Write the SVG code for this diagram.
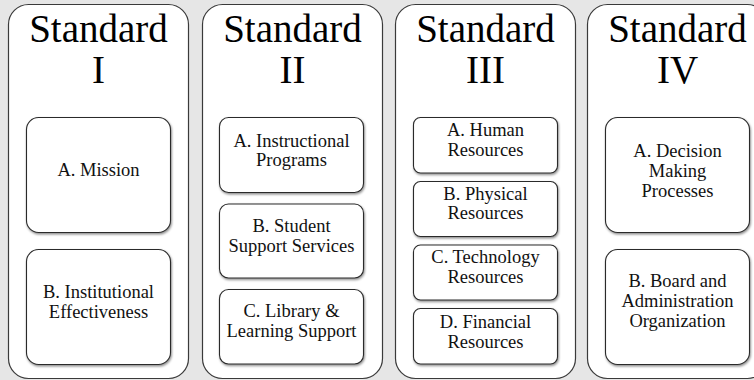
<svg xmlns="http://www.w3.org/2000/svg" width="754" height="380" viewBox="0 0 754 380">
<style>
.bg{fill:#e6e6e6}
.outer{fill:#fff;stroke:#3a3a3a;stroke-width:1.2}
.inner{fill:#fff;stroke:#2a2a2a;stroke-width:1.1;filter:url(#sh)}
.title{font-size:39px;fill:#000;text-anchor:middle}
.lbl{font-size:18.5px;fill:#111;text-anchor:middle}
</style>
<defs>
<filter id="sh" x="-10%" y="-10%" width="120%" height="130%">
<feDropShadow dx="0.8" dy="1.5" stdDeviation="0.8" flood-color="#000" flood-opacity="0.45"/>
</filter>
</defs>
<rect class="bg" x="0" y="0" width="754" height="380"/>
<g font-family="'Liberation Serif', 'Times New Roman', serif">
<g id="standard-1">
<rect class="outer" x="8.5" y="4.5" width="180" height="374" rx="20"/>
<text class="title" x="98.5" y="42">Standard</text>
<text class="title" x="98.5" y="83">I</text>
<g id="s1-a"><rect class="inner" x="26.5" y="117.5" width="144" height="115" rx="12"/>
<text class="lbl" x="98.5" y="176">A. Mission</text></g>
<g id="s1-b"><rect class="inner" x="26.5" y="249.5" width="144" height="115" rx="12"/>
<text class="lbl" x="98.5" y="298">B. Institutional</text>
<text class="lbl" x="98.5" y="318">Effectiveness</text></g>
</g>
<g id="standard-2">
<rect class="outer" x="202.5" y="4.5" width="180" height="374" rx="20"/>
<text class="title" x="292.5" y="42">Standard</text>
<text class="title" x="292.5" y="83">II</text>
<g id="s2-a"><rect class="inner" x="219.5" y="117.5" width="144" height="75" rx="9"/>
<text class="lbl" x="291.5" y="147">A. Instructional</text>
<text class="lbl" x="291.5" y="166">Programs</text></g>
<g id="s2-b"><rect class="inner" x="219.5" y="204" width="144" height="74" rx="9"/>
<text class="lbl" x="291.5" y="232">B. Student</text>
<text class="lbl" x="291.5" y="252">Support Services</text></g>
<g id="s2-c"><rect class="inner" x="219.5" y="289.5" width="144" height="74.5" rx="9"/>
<text class="lbl" x="291.5" y="317">C. Library &amp;</text>
<text class="lbl" x="291.5" y="337">Learning Support</text></g>
</g>
<g id="standard-3">
<rect class="outer" x="395.5" y="4.5" width="180" height="374" rx="20"/>
<text class="title" x="485.5" y="42">Standard</text>
<text class="title" x="485.5" y="83">III</text>
<g id="s3-a"><rect class="inner" x="413.5" y="117.5" width="144" height="55.5" rx="7"/>
<text class="lbl" x="485.5" y="136">A. Human</text>
<text class="lbl" x="485.5" y="156">Resources</text></g>
<g id="s3-b"><rect class="inner" x="413.5" y="181.5" width="144" height="55" rx="7"/>
<text class="lbl" x="485.5" y="200">B. Physical</text>
<text class="lbl" x="485.5" y="219">Resources</text></g>
<g id="s3-c"><rect class="inner" x="413.5" y="245" width="144" height="55" rx="7"/>
<text class="lbl" x="485.5" y="263">C. Technology</text>
<text class="lbl" x="485.5" y="283">Resources</text></g>
<g id="s3-d"><rect class="inner" x="413.5" y="308.5" width="144" height="55.5" rx="7"/>
<text class="lbl" x="485.5" y="328">D. Financial</text>
<text class="lbl" x="485.5" y="348">Resources</text></g>
</g>
<g id="standard-4">
<rect class="outer" x="587.5" y="4.5" width="180" height="374" rx="20"/>
<text class="title" x="677.5" y="42">Standard</text>
<text class="title" x="677.5" y="83">IV</text>
<g id="s4-a"><rect class="inner" x="605.5" y="117.5" width="144" height="115" rx="12"/>
<text class="lbl" x="677.5" y="157">A. Decision</text>
<text class="lbl" x="677.5" y="177">Making</text>
<text class="lbl" x="677.5" y="197">Processes</text></g>
<g id="s4-b"><rect class="inner" x="605.5" y="249.5" width="144" height="115" rx="12"/>
<text class="lbl" x="677.5" y="287">B. Board and</text>
<text class="lbl" x="677.5" y="307">Administration</text>
<text class="lbl" x="677.5" y="327">Organization</text></g>
</g>
</g>
<g id="connectors"/>
</svg>
